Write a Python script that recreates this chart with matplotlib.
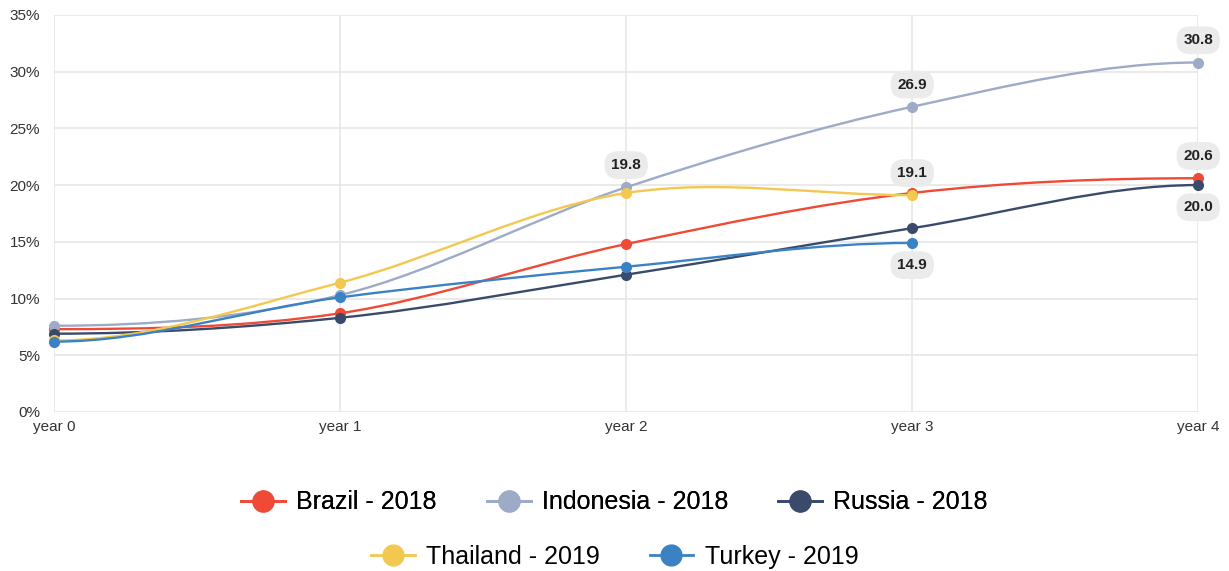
import matplotlib.pyplot as plt
from matplotlib.path import Path
from matplotlib.patches import PathPatch
from matplotlib.lines import Line2D

plt.rcParams['font.family'] = ['Liberation Sans', 'DejaVu Sans']

categories = ['year 0', 'year 1', 'year 2', 'year 3', 'year 4']
brazil = [7.3, 8.7, 14.8, 19.3, 20.6]
indonesia = [7.6, 10.3, 19.8, 26.9, 30.8]
russia = [6.9, 8.3, 12.1, 16.2, 20.0]
thailand = [6.3, 11.4, 19.3, 19.1]
turkey = [6.2, 10.1, 12.8, 14.9]

series = [
    ('Brazil - 2018', brazil, '#f04a36'),
    ('Indonesia - 2018', indonesia, '#9dabc7'),
    ('Russia - 2018', russia, '#394a6b'),
    ('Thailand - 2019', thailand, '#f2c84e'),
    ('Turkey - 2019', turkey, '#3b82c4'),
]

# etiquetas: (serie, indice, arriba/abajo)
etiquetas = [
    (indonesia, 2, 'up'), (indonesia, 3, 'up'), (indonesia, 4, 'up'),
    (thailand, 3, 'up'), (turkey, 3, 'down'),
    (brazil, 4, 'up'), (russia, 4, 'down'),
]


def spline_path(xs, ys):
    # curva suave: tangentes tipo catmull-rom, extremos planos
    n = len(xs)
    m = [0.0] * n
    for i in range(1, n - 1):
        m[i] = (ys[i + 1] - ys[i - 1]) / (xs[i + 1] - xs[i - 1])
    verts = [(xs[0], ys[0])]
    codes = [Path.MOVETO]
    for i in range(1, n):
        h = xs[i] - xs[i - 1]
        verts += [(xs[i - 1] + h / 3, ys[i - 1] + m[i - 1] * h / 3),
                  (xs[i] - h / 3, ys[i] - m[i] * h / 3),
                  (xs[i], ys[i])]
        codes += [Path.CURVE4] * 3
    return Path(verts, codes)


fig = plt.figure(figsize=(12.29, 5.71), dpi=100)
ax = fig.add_axes([0.044, 0.2785, 0.931, 0.6955])

for nombre, vals, color in series:
    xs = list(range(len(vals)))
    ax.add_patch(PathPatch(spline_path(xs, vals), facecolor='none', edgecolor=color, lw=1.7, zorder=3))
    ax.plot(xs, vals, 'o', color=color, ms=7, zorder=4, clip_on=False)

for vals, i, pos in etiquetas:
    off = 16 if pos == 'up' else -16
    ax.annotate(f'{vals[i]:.1f}', (i, vals[i]), xytext=(0, off), textcoords='offset points',
                ha='center', va='center', fontsize=11, fontweight='bold', color='#222222',
                bbox=dict(boxstyle='round,pad=0.45,rounding_size=0.9', fc='#ebebeb', ec='none'),
                zorder=5, annotation_clip=False)

ax.set_xlim(0, 4)
ax.set_ylim(0, 35)
ax.set_xticks(range(len(categories)))
ax.set_xticklabels(categories)
ax.set_yticks(range(0, 36, 5))
ax.set_yticklabels([f'{v}%' for v in range(0, 36, 5)])
ax.tick_params(length=0, labelsize=11, colors='#333333', pad=6)
ax.tick_params(axis='y', pad=10)
ax.grid(True, color='#e6e6e6', lw=1.2)
ax.set_axisbelow(True)
for s in ax.spines.values():
    s.set_visible(False)

# leyenda en dos filas centradas
handles = [Line2D([], [], color=c, lw=2, marker='o', ms=15) for _, _, c in series]
nombres = [n for n, _, _ in series]
estilo = dict(loc='center', frameon=False, fontsize=18, handlelength=1.75,
              columnspacing=2.0, handletextpad=0.45)
leg1 = fig.legend(handles[:3], nombres[:3], bbox_to_anchor=(0.5, 0.12), ncol=3, **estilo)
fig.add_artist(leg1)
fig.legend(handles[3:], nombres[3:], bbox_to_anchor=(0.5, 0.025), ncol=2, **estilo)

plt.savefig('out.png', dpi=100)
